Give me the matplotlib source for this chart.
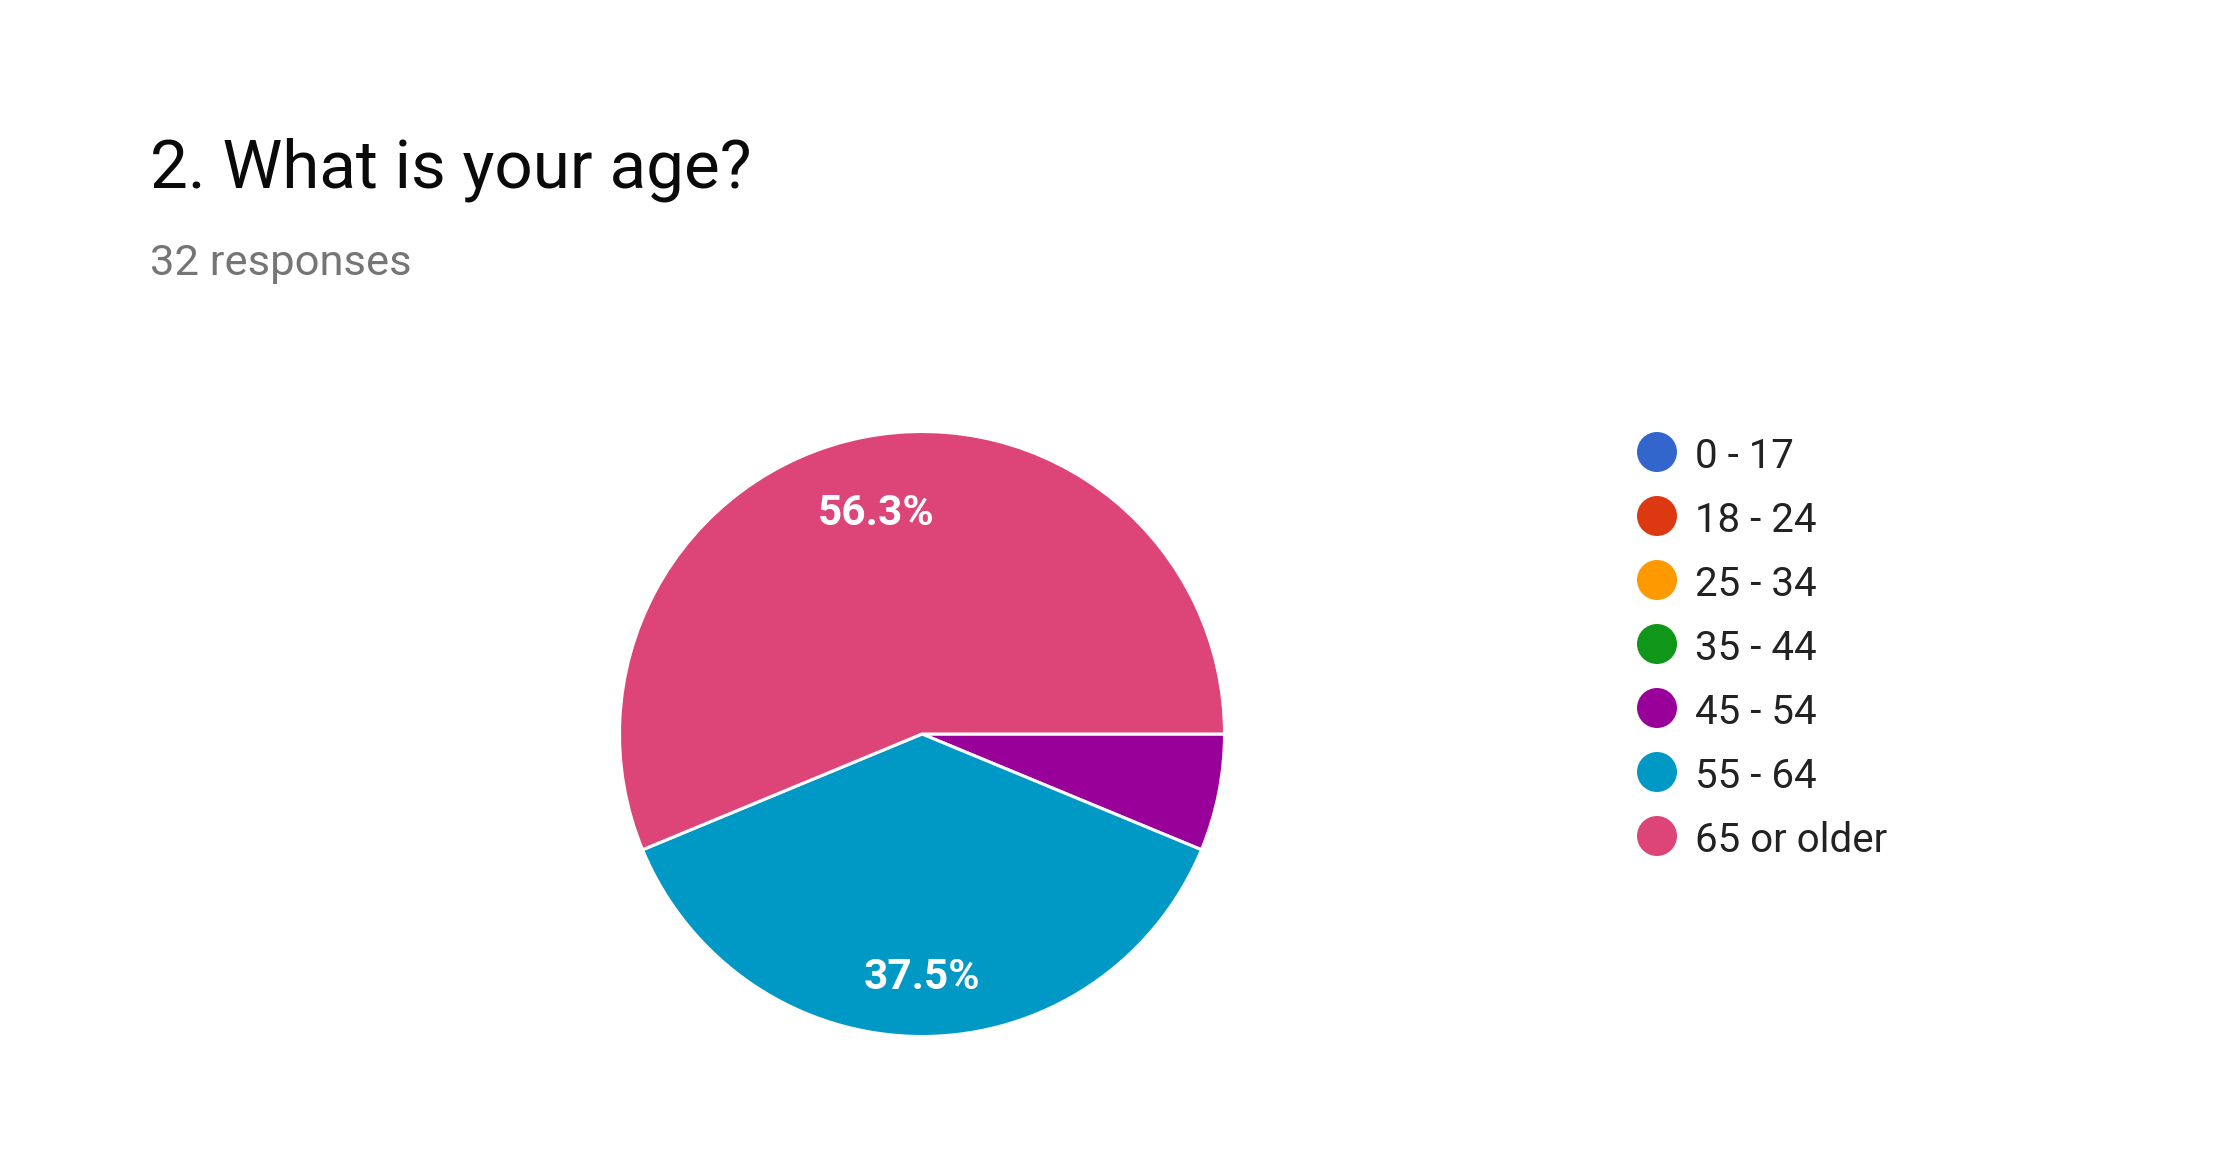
import numpy as np
import matplotlib.pyplot as plt

# data: Google Forms question, 32 responses
categories = ['0 - 17', '18 - 24', '25 - 34', '35 - 44', '45 - 54', '55 - 64', '65 or older']
counts = [0, 0, 0, 0, 2, 12, 18]
colors = ['#3366CC', '#DC3912', '#FF9900', '#109618', '#990099', '#0099C6', '#DD4477']
title = '2. What is your age?'
subtitle = '32 responses'

plt.rcParams['font.family'] = ['Roboto', 'DejaVu Sans']

W, H = 2240, 1160
fig = plt.figure(figsize=(W / 100, H / 100), dpi=100)
fig.patch.set_facecolor('white')

# header
fig.text(150 / W, 1 - 188 / H, title, fontsize=48.5, color='#0a0a0a', va='baseline', ha='left')
fig.text(150 / W, 1 - 275 / H, subtitle, fontsize=31.3, color='#757575', va='baseline', ha='left')


def pct_label(p):
    # google hides the label on small slices, rounds half up
    if p <= 10:
        return ''
    return f'{np.floor(p * 10 + 0.5 + 1e-6) / 10:.1f}%'


# pie, centre ~ (923, 734) px, radius ~ 304 px
cx, cy, r = 922, 734, 304
ax = fig.add_axes([(cx - r) / W, (H - cy - r) / H, 2 * r / W, 2 * r / H])
wedges, texts, autotexts = ax.pie(counts, colors=colors, startangle=0, counterclock=False,
                                  autopct=pct_label, pctdistance=0.775,
                                  wedgeprops={'edgecolor': 'white', 'linewidth': 2.2},
                                  textprops={'color': 'white', 'fontsize': 30.5, 'fontweight': 'bold'})
for t in autotexts:
    x, y = t.get_position()
    t.set_position((x, y - 0.03))
ax.set_xlim(-1.005, 1.005)
ax.set_ylim(-1.005, 1.005)
ax.set_aspect('equal')
ax.axis('off')

# legend drawn as its own little axes, one row per category
row0, pitch = 452, 64
n = len(categories)
lax = fig.add_axes([1620 / W, 1 - (row0 + pitch * (n - 0.5)) / H, 380 / W, pitch * n / H])
lax.set_xlim(0, 380)
lax.set_ylim(n - 0.5, -0.5)
lax.axis('off')
rows = np.arange(n)
lax.scatter(np.full(n, 37), rows, s=(40 * 0.72) ** 2, c=colors, linewidths=0)
for i, lab in enumerate(categories):
    lax.text(75, rows[i], lab, fontsize=29, color='#222222', va='center_baseline', ha='left')

fig.savefig('out.png', dpi=100, facecolor='white')
